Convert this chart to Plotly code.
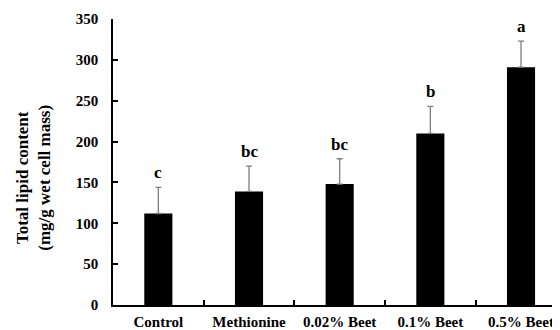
import plotly.graph_objects as go

categories = ["Control", "Methionine", "0.02% Beet", "0.1% Beet", "0.5% Beet"]
values = [112, 139, 148, 210, 291]
errors = [32, 31, 31, 33, 32]
letters = ["c", "bc", "bc", "b", "a"]
y_ticks = [0, 50, 100, 150, 200, 250, 300, 350]
y_title = "<b>Total lipid content<br>(mg/g wet cell mass)</b>"

font = "Liberation Serif, Times New Roman, serif"

fig = go.Figure()
fig.add_trace(go.Bar(
    x=categories, y=values, width=0.31,
    marker=dict(color="black", line=dict(color="black", width=0)),
    error_y=dict(type="data", array=errors, arrayminus=[0]*len(errors), symmetric=False,
                 color="#7f7f7f", thickness=1.3, width=3),
))

for c, v, e, l in zip(categories, values, errors, letters):
    fig.add_annotation(x=c, y=v + e, text=f"<b>{l}</b>", showarrow=False,
                       yanchor="bottom", yshift=3,
                       font=dict(family=font, size=17, color="black"))

# y-axis title as a rotated annotation (sits slightly below the plot middle)
fig.add_annotation(x=0, y=0.445, xref="paper", yref="paper", text=y_title,
                   textangle=-90, showarrow=False, xanchor="center", yanchor="middle",
                   xshift=-79, font=dict(family=font, size=17, color="black"))

# The page body adds an 8px offset; margins compensate for it.
fig.update_layout(
    width=560, height=330,
    margin=dict(l=105, r=8, t=11, b=33),
    paper_bgcolor="white", plot_bgcolor="white",
    showlegend=False,
    font=dict(family=font, size=15, color="black"),
)
fig.update_xaxes(
    range=[-0.5, 4.43], showline=True, linecolor="black", linewidth=1.5,
    ticks="inside", tickson="boundaries", ticklen=5, tickcolor="black", tickwidth=1.5,
    tickfont=dict(family=font, size=15, color="black", weight="bold"),
    showgrid=False, automargin=False, ticklabelstandoff=2,
)
fig.update_yaxes(
    range=[0, 350], tickvals=y_ticks, showline=True, linecolor="black", linewidth=1.5,
    ticks="inside", ticklen=5, tickcolor="black", tickwidth=1.5,
    tickfont=dict(family=font, size=15, color="black", weight="bold"),
    showgrid=False, zeroline=False, ticklabelstandoff=10, automargin=False,
)

fig.write_html("out.html")
